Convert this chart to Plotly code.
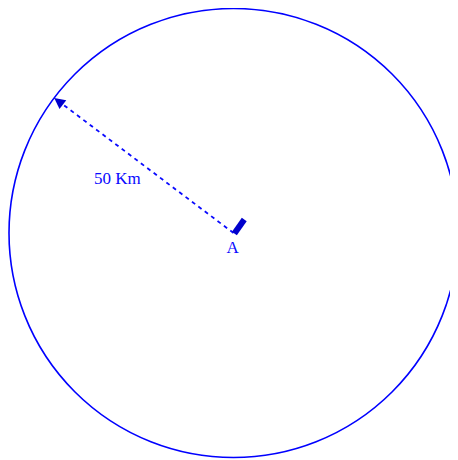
import plotly.graph_objects as go
import math

# station A and the 50 km radius (km coordinates)
center_x = [0.0]
center_y = [0.0]
radius_km = [50]
label_names = ["A"]
radius_label = ["50 Km"]
bearing_deg = [143]  # direction of the radius line

# end point of the radius line on the circle
r = radius_km[0]
tip_x = center_x[0] + r * math.cos(math.radians(bearing_deg[0]))
tip_y = center_y[0] + r * math.sin(math.radians(bearing_deg[0]))

blue = "#0a0aff"
px_per_km = 4.5

fig = go.Figure()

# dashed radius line
fig.add_trace(go.Scatter(
    x=[center_x[0], tip_x], y=[center_y[0], tip_y],
    mode="lines",
    line=dict(color=blue, width=1.8, dash="4px,4px"),
    hoverinfo="skip", showlegend=False
))

# small bar marking station A
fig.add_trace(go.Scatter(
    x=[center_x[0] + 0.2, center_x[0] + 2.4],
    y=[center_y[0] - 0.1, center_y[0] + 3.0],
    mode="lines",
    line=dict(color="#0000cc", width=6),
    hoverinfo="skip", showlegend=False
))

# label A
fig.add_trace(go.Scatter(
    x=[center_x[0] - 0.2], y=[center_y[0] - 3.4],
    mode="text", text=label_names,
    textfont=dict(family="Liberation Serif", size=17, color=blue),
    hoverinfo="skip", showlegend=False
))

# the 50 km circle
fig.add_shape(
    type="circle", xref="x", yref="y",
    x0=center_x[0] - r, x1=center_x[0] + r,
    y0=center_y[0] - r, y1=center_y[0] + r,
    line=dict(color="#0000ff", width=1.6)
)

# arrowhead at the circle
fig.add_annotation(
    x=tip_x, y=tip_y, xref="x", yref="y",
    ax=9, ay=7, showarrow=True,
    arrowhead=2, arrowsize=1.1, arrowwidth=2, arrowcolor="#0000cc", text=""
)

# radius label
fig.add_annotation(
    x=-25.8, y=12.1, xref="x", yref="y",
    text=radius_label[0], showarrow=False,
    font=dict(family="Liberation Serif", size=17, color=blue)
)

# the page adds an 8px body margin, so the figure covers page pixels 8..458 / 8..460
fig.update_layout(
    width=450, height=452,
    margin=dict(l=0, r=0, t=0, b=0),
    paper_bgcolor="white", plot_bgcolor="white",
    xaxis=dict(range=[(7 - 233) / px_per_km, (458 - 233) / px_per_km],
               visible=False, fixedrange=True),
    yaxis=dict(range=[(232.5 - 460) / px_per_km, (232.5 - 7) / px_per_km],
               visible=False, fixedrange=True),
)

fig.write_html("out.html")
